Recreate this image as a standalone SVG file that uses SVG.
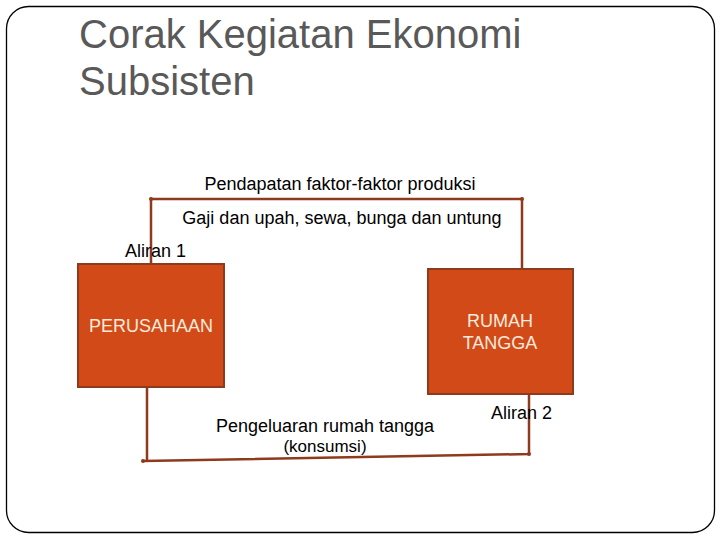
<svg xmlns="http://www.w3.org/2000/svg" width="720" height="540" viewBox="0 0 720 540">
<style>
.t{font-family:"Liberation Sans",Arial,sans-serif;font-size:18px;fill:#000}
.title{font-family:"Liberation Sans",Arial,sans-serif;font-size:40px;fill:#595959}
.box{fill:#D24A18;stroke:#8E3A1C;stroke-width:2}
.bt{font-family:"Liberation Sans",Arial,sans-serif;font-size:18px;fill:#FCEBDD}
.c{fill:none;stroke:#8E3A1C;stroke-width:2.5}
</style>
<rect width="720" height="540" fill="#fff"/>
<rect x="6.5" y="6.5" width="708" height="526" rx="22" fill="none" stroke="#000" stroke-width="1.3"/>
<text class="title" x="79" y="48">Corak Kegiatan Ekonomi</text>
<text class="title" x="79" y="95">Subsisten</text>
<g id="connectors">
<polyline class="c" points="151,264 151,199 522,199 522,269"/>
<polyline class="c" points="147,388 147,461 143,461 529,454 529,395"/>
<circle cx="151" cy="199" r="2" fill="#8E3A1C"/>
<circle cx="522" cy="199" r="2" fill="#8E3A1C"/>
<circle cx="143" cy="461" r="2" fill="#8E3A1C"/>
<circle cx="529" cy="454" r="2" fill="#8E3A1C"/>
</g>
<text class="t" x="340" y="190" text-anchor="middle">Pendapatan faktor-faktor produksi</text>
<text class="t" x="342" y="224" text-anchor="middle">Gaji dan upah, sewa, bunga dan untung</text>
<text class="t" x="125" y="257">Aliran 1</text>
<g id="perusahaan">
<rect class="box" x="78" y="264" width="146" height="123"/>
<text class="bt" x="89" y="332">PERUSAHAAN</text>
</g>
<g id="rumah-tangga">
<rect class="box" x="428" y="269" width="145" height="125"/>
<text class="bt" x="500" y="327" text-anchor="middle">RUMAH</text>
<text class="bt" x="500" y="349" text-anchor="middle">TANGGA</text>
</g>
<text class="t" x="325" y="432" text-anchor="middle">Pengeluaran rumah tangga</text>
<text class="t" x="325" y="452" text-anchor="middle" style="font-size:17px">(konsumsi)</text>
<text class="t" x="491" y="419">Aliran 2</text>
</svg>
